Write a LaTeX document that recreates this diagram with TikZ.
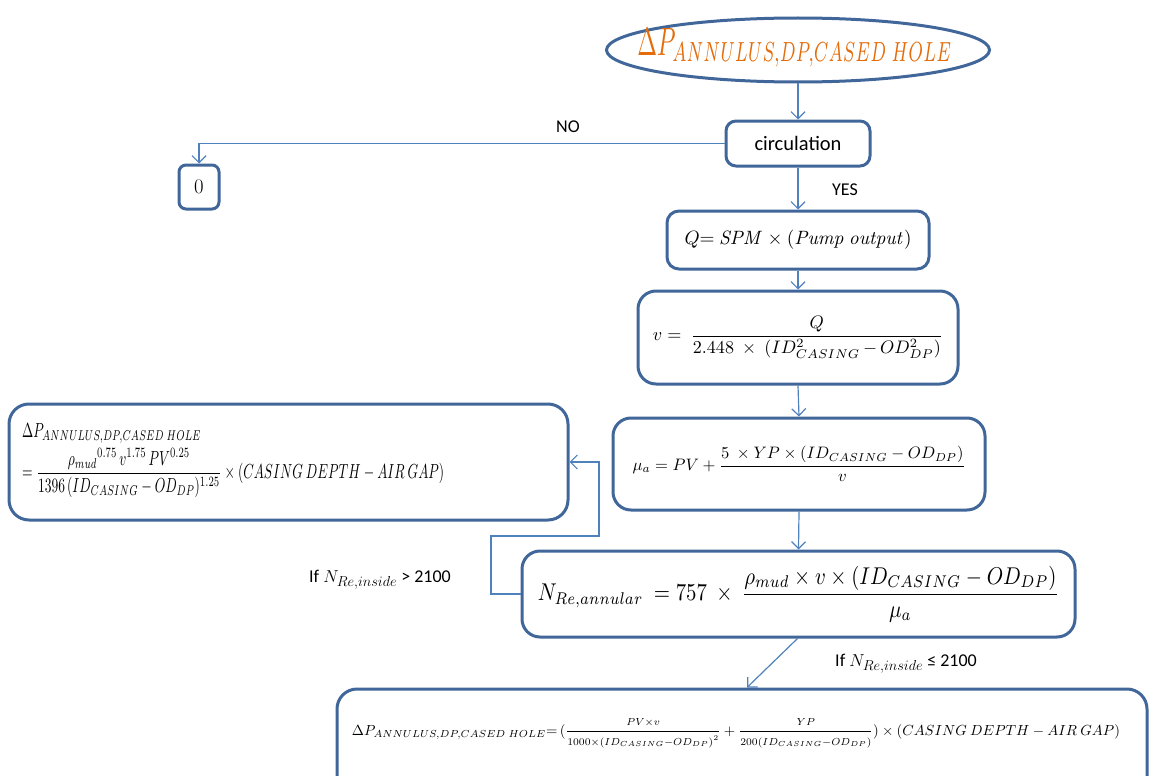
\documentclass[tikz,border=0pt]{standalone}
\usepackage[no-math]{fontspec}
\setmainfont{Carlito}
\usetikzlibrary{shapes.geometric,arrows.meta}

\definecolor{boxline}{HTML}{41679A}
\definecolor{linkline}{HTML}{4F81BD}
\definecolor{titleorange}{HTML}{E46C0A}

% scale a formula to a given width (and optionally height above the baseline)
\newcommand\fitw[2]{\resizebox{#1}{!}{#2}}
\newcommand\fitwh[3]{\resizebox{#1}{#2}{#3}}
% same, with the total height given
\newcommand\fitwt[3]{\resizebox*{#1}{#2}{#3}}
% Reynolds number symbol with a larger subscript, for the branch labels
\newcommand\nreinside{$N_{\mbox{\fontsize{15}{15}\selectfont$Re{,}inside$}}$}

\tikzset{
  box/.style={draw=boxline, line width=3pt, rectangle, fill=white, inner sep=0pt},
  link/.style={draw=linkline, line width=1.2pt,
    -{Straight Barb[length=7pt,width=14pt,line width=1.2pt]}},
  lbl/.style={inner sep=0pt, font=\fontsize{18}{21}\selectfont},
}

\begin{document}
\begin{tikzpicture}[x=1pt,y=-1pt]
\useasboundingbox (0,0) rectangle (1149,776);

% start ellipse
\node[draw=boxline, line width=3pt, ellipse, minimum width=383pt, minimum height=64pt, inner sep=0pt]
  (start) at (798,50) {};
\node[inner sep=0pt] (starttext) at (795,48)
  {\color{titleorange}\fitwh{315pt}{27pt}{$\Delta P_{ANNULUS,DP,CASED\ HOLE}$}};

% decision and computation boxes
\node[box, rounded corners=10pt, minimum width=144pt, minimum height=45pt,
  font=\fontsize{20.5}{24}\selectfont] (circ) at (798,143.5) {circulation};
\node[box, rounded corners=7pt, minimum width=40pt, minimum height=44pt,
  font=\fontsize{22}{24}\selectfont] (zero) at (199,187) {$0$};
\node[box, rounded corners=12pt, minimum width=262pt, minimum height=58pt] (q) at (798,240)
  {\fitw{227pt}{$Q{=}\ \mathit{SPM}\times(\mathit{Pump\ output})$}};
\node[box, rounded corners=18pt, minimum width=320pt, minimum height=93pt] (vel) at (798,337.5)
  {\fitw{290pt}{$\displaystyle v=\ \frac{Q}{2.448\ \times\ (ID^2_{CASING}\,{-}\,OD^2_{DP})}$}};
\node[box, rounded corners=18pt, minimum width=372pt, minimum height=92pt] (mu) at (799,464)
  {\fitw{333pt}{$\displaystyle \mu_a=PV+\frac{5\ \times YP\times(ID_{CASING}-OD_{DP})}{v}$}};
\node[box, rounded corners=18pt, minimum width=553pt, minimum height=86pt] (nre) at (798.5,594)
  {\fitwt{521pt}{56pt}{$\displaystyle N_{Re,annular}\ =757\ \times\ \frac{\rho_{mud}\times v\times(ID_{CASING}-OD_{DP})}{\mu_a}$}};

% turbulent result (left)
\node[box, rounded corners=20pt, minimum width=559pt, minimum height=116pt] (turb) at (288.5,462) {};
\node[inner sep=0pt, anchor=west] (turbtext) at (22,459)
  {\fitwh{422pt}{44pt}{\begin{tabular}{@{}l@{}}
    $\Delta P_{ANNULUS,DP,CASED\ HOLE}$\\[2pt]
    $\displaystyle =\frac{{\rho_{mud}}^{0.75}\,v^{1.75}\,PV^{0.25}}{1396\,(ID_{CASING}-OD_{DP})^{1.25}}\times(CASING\ DEPTH-AIR\ GAP)$
  \end{tabular}}};

% laminar result (bottom)
\node[box, rounded corners=20pt, minimum width=810pt, minimum height=111pt] (lam) at (742,744.5) {};
\node[inner sep=0pt] (lamtext) at (736,733)
  {\fitw{768pt}{$\displaystyle \Delta P_{ANNULUS,DP,CASED\ HOLE}{=}\,(\frac{\scriptstyle PV\times v}{\scriptstyle 1000\times(ID_{CASING}-OD_{DP})^2}+\frac{\scriptstyle YP}{\scriptstyle 200(ID_{CASING}-OD_{DP})})\times(CASING\ DEPTH-AIR\ GAP)$}};

% connectors
\draw[link] (start.south) -- (circ.north);
\draw[link] (circ.west) -| (zero.north);
\draw[link] (circ.south) -- (q.north);
\draw[link] (q.south) -- (vel.north);
\draw[link] (vel.south) -- (mu.north);
\draw[link] (mu.south) -- (nre.north);
\draw[link] ([xshift=-1pt]nre.south) -- ([xshift=5pt]lam.north);
\coordinate (loopa) at (491,536);
\coordinate (loopb) at (599,536);
\draw[link] (nre.west) -| (loopa) -- (loopb) |- (turb.east);

% branch labels
\node[lbl] (nolbl) at (568,127) {NO};
\node[lbl] (yeslbl) at (845,190) {YES};
\node[lbl] (gtlbl) at (380,580) {If \nreinside{} > 2100};
\node[lbl] (lelbl) at (906,664) {If \nreinside{} ≤ 2100};
\end{tikzpicture}
\end{document}
